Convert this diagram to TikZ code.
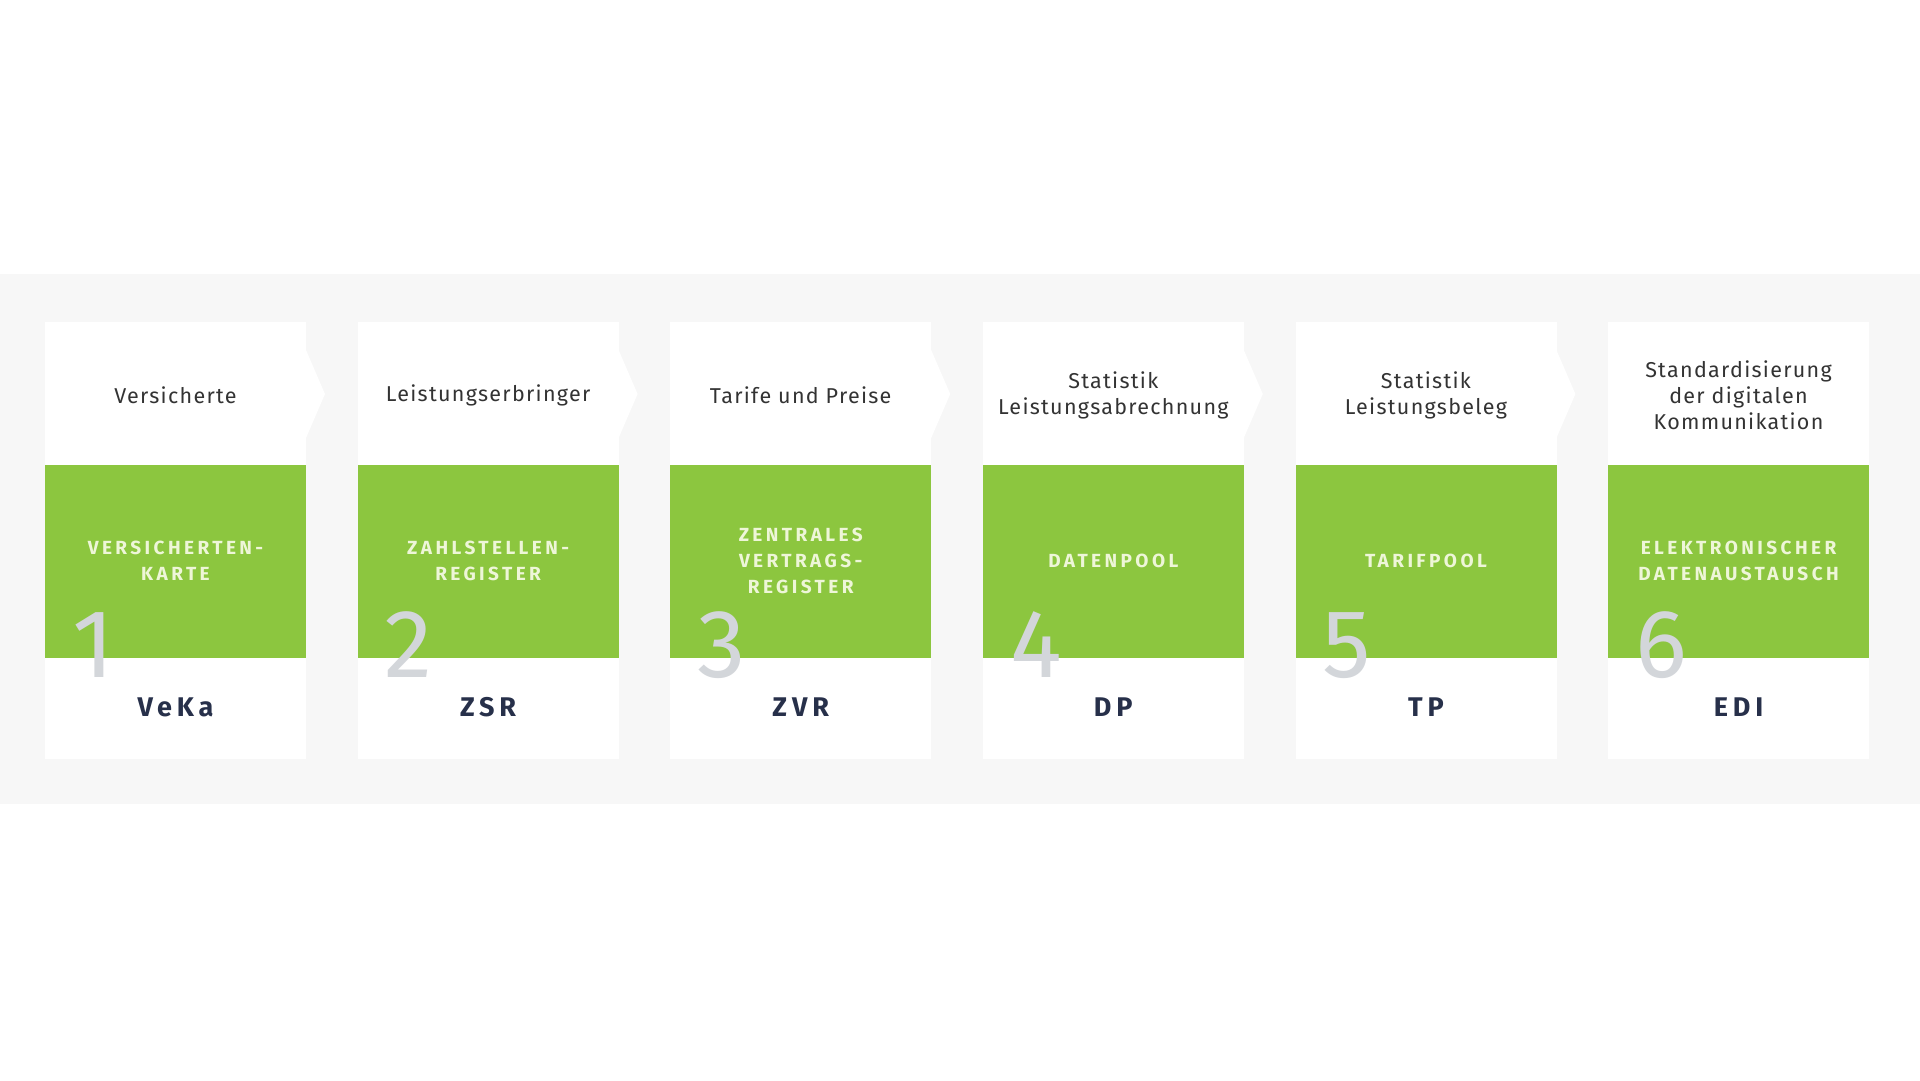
\documentclass[tikz,border=0pt]{standalone}
\usepackage{fontspec}
\setmainfont{Fira Sans}
\newfontfamily\lblfont[LetterSpace=6]{Fira Sans}
\newfontfamily\capfont[LetterSpace=18]{Fira Sans}
\newfontfamily\abbrfont[LetterSpace=18]{Fira Sans}
\definecolor{band}{HTML}{F7F7F7}
\definecolor{leaf}{HTML}{8CC63F}
\definecolor{cream}{HTML}{EEF6D8}
\definecolor{ink}{HTML}{333333}
\definecolor{navy}{HTML}{27304A}
\definecolor{digit}{HTML}{D3D6DA}
\begin{document}
\begin{tikzpicture}[x=1pt,y=-1pt,
  card/.style={fill=white, draw=none, minimum width=261pt, minimum height=437pt, inner sep=0pt, anchor=north west},
  greenbox/.style={fill=leaf, draw=none, minimum width=261pt, minimum height=193pt, inner sep=0pt, anchor=north west},
  toplabel/.style={font=\lblfont\fontsize{21.5}{26}\selectfont, text=ink, align=center, inner sep=0pt},
  greenlabel/.style={font=\capfont\bfseries\fontsize{19}{26}\selectfont, text=cream, align=center, inner sep=0pt},
  abbr/.style={font=\abbrfont\bfseries\fontsize{27}{30}\selectfont, text=navy, anchor=base, inner sep=0pt},
  bignum/.style={font=\fontsize{97}{97}\selectfont, text=digit, anchor=base west, inner sep=0pt},
  chevron/.style={fill=white, draw=none}
]
\useasboundingbox (0,0) rectangle (1920,1080);
\fill[white] (0,0) rectangle (1920,1080);
\fill[band] (0,274) rectangle (1920,804);
\foreach \i/\tl/\ml/\al in {
  1/{Versicherte}/{VERSICHERTEN-\\KARTE}/{VeKa},
  2/{Leistungserbringer}/{ZAHLSTELLEN-\\REGISTER}/{ZSR},
  3/{Tarife und Preise}/{ZENTRALES\\VERTRAGS-\\REGISTER}/{ZVR},
  4/{Statistik\\Leistungsabrechnung}/{DATENPOOL}/{DP},
  5/{Statistik\\Leistungsbeleg}/{TARIFPOOL}/{TP},
  6/{Standardisierung\\der digitalen\\Kommunikation}/{ELEKTRONISCHER\\DATENAUSTAUSCH}/{EDI}}{
  \pgfmathsetmacro\L{45+312.6*(\i-1)}
  \pgfmathsetmacro\C{\L+130.5}
  \pgfmathsetmacro\R{\L+261}
  \pgfmathsetmacro\T{\L+280}
  \node[card] (card\i) at (\L,322) {};
  \ifnum\i<6
    \fill[chevron] (\R,350) -- (\T,394) -- (\R,438) -- cycle;
  \fi
  \node[greenbox] (green\i) at (\L,465) {};
  \node[toplabel] (top\i) at (\C,395) {\tl};
  \node[greenlabel] (mid\i) at (\C,561) {\ml};
  \node[bignum] (num\i) at (\L+27,677) {\i};
  \node[abbr] (abbr\i) at (\C,716) {\al};
}
\end{tikzpicture}
\end{document}
